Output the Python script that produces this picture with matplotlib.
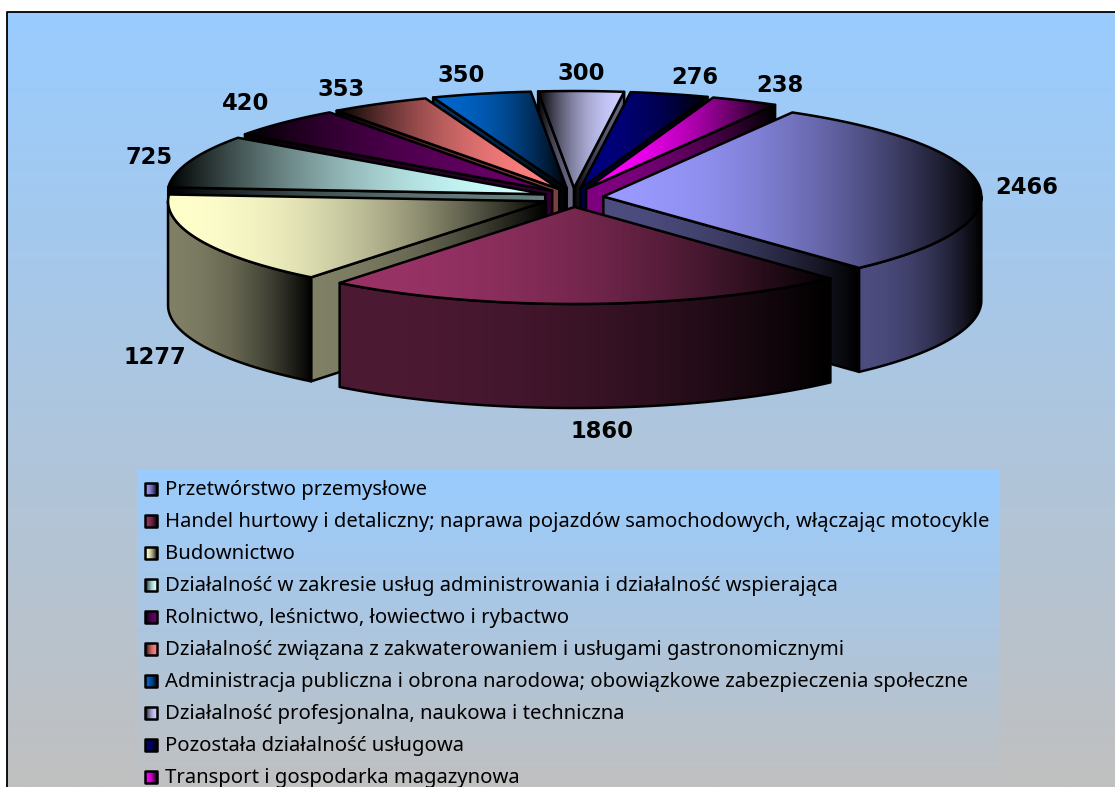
# -*- coding: utf-8 -*-
import numpy as np
import matplotlib
matplotlib.use("Agg")
import matplotlib.pyplot as plt
from matplotlib.patches import Polygon, Rectangle

#-----------------------------------------------
#data
#-----------------------------------------------
categories = ['Przetwórstwo przemysłowe',
              'Handel hurtowy i detaliczny; naprawa pojazdów samochodowych, włączając motocykle',
              'Budownictwo',
              'Działalność w zakresie usług administrowania i działalność wspierająca',
              'Rolnictwo, leśnictwo, łowiectwo i rybactwo',
              'Działalność związana z zakwaterowaniem i usługami gastronomicznymi',
              'Administracja publiczna i obrona narodowa; obowiązkowe zabezpieczenia społeczne',
              'Działalność profesjonalna, naukowa i techniczna',
              'Pozostała działalność usługowa',
              'Transport i gospodarka magazynowa']
values = [2466, 1860, 1277, 725, 420, 353, 350, 300, 276, 238]

#-----------------------------------------------
#styles and layout
#-----------------------------------------------
colors = ['#9999FF', '#993366', '#FFFFCC', '#CCFFFF', '#660066',
          '#FF8080', '#0066CC', '#CCCCFF', '#000080', '#FF00FF']
bright_right = [False, False, False, True, True, True, False, True, False, False]
label_xy = [(1027, 188), (602, 432), (155, 357), (149, 157), (246, 104),
            (341, 89), (461, 75), (581, 73), (695, 77), (780, 85)]

W, H = 1115, 787
cx, cy = 573.5, 197.5
rx, ry = 378, 97
ex, ey = 30, 9.5
depth = 104
start = 30
top_blue = np.array([153, 204, 255]) / 255
bottom_grey = np.array([192, 192, 192]) / 255

fig = plt.figure(figsize=(W / 100, H / 100), dpi=100)
ax = fig.add_axes([0, 0, 1, 1])
ax.set_xlim(0, W)
ax.set_ylim(H, 0)
ax.axis('off')


def vgrad(x0, x1, y0, y1, z):
    t = np.linspace(0, 1, 256)[:, None, None]
    img = top_blue[None, None, :] * (1 - t) + bottom_grey[None, None, :] * t
    ax.imshow(img, extent=(x0, x1, y1, y0), aspect='auto', zorder=z, interpolation='bilinear')


def hgrad_poly(pts, col, flip, z, scale=1.0):
    #fill polygon with a horizontal gradient from col to black, bright part held longer
    pts = np.array(pts)
    c = np.array(matplotlib.colors.to_rgb(col)) * scale
    t = np.linspace(0, 1, 256)
    if flip:
        t = t[::-1]
    img = ((1 - t ** 2)[:, None] * c)[None, :, :]
    x0, x1 = pts[:, 0].min(), pts[:, 0].max()
    y0, y1 = pts[:, 1].min(), pts[:, 1].max()
    im = ax.imshow(img, extent=(x0, x1, y1, y0), aspect='auto', zorder=z, interpolation='bilinear')
    clip = Polygon(pts, closed=True, transform=ax.transData, facecolor='none', edgecolor='none')
    ax.add_patch(clip)
    im.set_clip_path(clip)
    ax.add_patch(Polygon(pts, closed=True, facecolor='none', edgecolor='black', linewidth=1.8,
                         joinstyle='round', zorder=z + 0.5))


#-----------------------------------------------
#background, the frame runs off the right and bottom of the picture
#-----------------------------------------------
vgrad(7, W, 12, H, 0)
ax.plot([7, 7, W], [H, 12, 12], color='black', lw=1.3, zorder=1)

#-----------------------------------------------
#pie slices, back ones first
#-----------------------------------------------
vals = np.array(values, dtype=float)
spans = vals / vals.sum() * 360
ends = start + np.cumsum(spans)
starts = ends - spans
mids = (starts + ends) / 2


def rim(cxs, cys, a0, a1, n=80):
    a = np.radians(np.linspace(a0, a1, n))
    return np.column_stack([cxs + rx * np.sin(a), cys - ry * np.cos(a)])


order = np.argsort(-np.cos(np.radians(mids)))
z = 2
for i in order:
    ax_i = cx + ex * np.sin(np.radians(mids[i]))
    ay_i = cy - ey * np.cos(np.radians(mids[i]))
    apex = np.array([ax_i, ay_i])
    down = np.array([0, depth])
    col = colors[i]
    flip = bright_right[i]

    #radial walls
    for ang, visible in ((starts[i], np.sin(np.radians(starts[i])) < 0),
                         (ends[i], np.sin(np.radians(ends[i])) > 0)):
        if visible:
            p = rim(ax_i, ay_i, ang, ang, 1)[0]
            hgrad_poly([apex, p, p + down, apex + down], col, flip, z, 0.5)
            z += 1

    #outer wall, front part only
    a0, a1 = max(starts[i], 90), min(ends[i], 270)
    if a1 > a0:
        r = rim(ax_i, ay_i, a0, a1)
        hgrad_poly(np.vstack([r, (r + down)[::-1]]), col, flip, z, 0.5)
        z += 1

    #top face
    r = rim(ax_i, ay_i, starts[i], ends[i])
    hgrad_poly(np.vstack([[apex], r]), col, flip, z)
    z += 1

#-----------------------------------------------
#value labels
#-----------------------------------------------
for v, (lx, ly) in zip(values, label_xy):
    ax.text(lx, ly, str(v), ha='center', va='center', fontsize=16.3, fontweight='bold',
            family='DejaVu Sans', color='black', zorder=500)

#-----------------------------------------------
#legend
#-----------------------------------------------
vgrad(137, 1000, 470, H, 501)
for i, name in enumerate(categories):
    y = 489 + 32 * i
    hgrad_poly([(145, y - 6), (157, y - 6), (157, y + 6), (145, y + 6)], colors[i], bright_right[i], 502 + i)
    ax.text(165, y + 1, name, ha='left', va='center', fontsize=14.6, family='Noto Sans',
            color='black', zorder=520)

fig.savefig('out.png', dpi=100)
